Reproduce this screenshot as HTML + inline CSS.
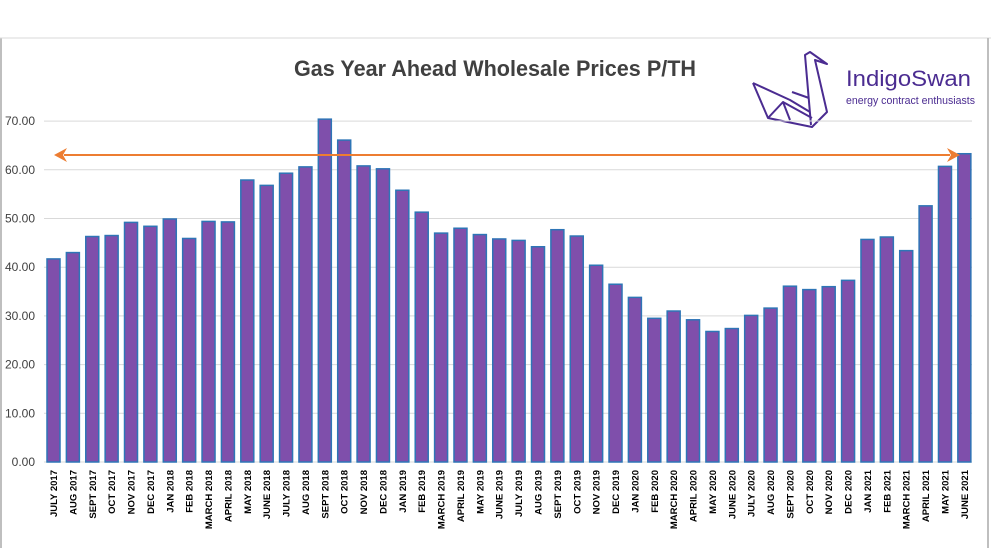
<!DOCTYPE html>
<html><head><style>body{margin:0;background:#fff}svg{display:block}</style></head><body>
<svg width="991" height="548" xmlns="http://www.w3.org/2000/svg" font-family="Liberation Sans, sans-serif">
<rect x="0" y="0" width="991" height="548" fill="#fff"/>
<line x1="1" y1="38" x2="1" y2="548" stroke="#bfbfbf" stroke-width="2"/>
<line x1="0" y1="38" x2="991" y2="38" stroke="#d9d9d9" stroke-width="1"/>
<line x1="988" y1="38" x2="988" y2="548" stroke="#bfbfbf" stroke-width="2"/>
<text x="495" y="76" text-anchor="middle" font-size="22" font-weight="bold" fill="#404040" textLength="402" lengthAdjust="spacingAndGlyphs">Gas Year Ahead Wholesale Prices P/TH</text>
<g id="grid" stroke="#d9d9d9" stroke-width="1"></g>
<g id="yl" font-size="12" fill="#404040" text-anchor="end"></g>
<g id="bars"></g>
<g id="xl" font-size="9.5" font-weight="bold" fill="#000" text-anchor="end"></g>
<line x1="64" y1="155" x2="950" y2="155" stroke="#ed7d31" stroke-width="2"/>
<polygon points="54,155 67,148 63,155 67,162" fill="#ed7d31"/>
<polygon points="960,155 947,148 951,155 947,162" fill="#ed7d31"/>
<g fill="none" stroke="#4b2c91" stroke-width="2" stroke-linejoin="round">
<polyline points="753,83 768,118 812,127 827,112 815,60 827,64 810,52 805,55 811,125"/>
<polyline points="753,83 790,100 810,112"/>
<polyline points="768,118 783,102 790,120"/>
<polyline points="783,102 812,118"/>
<polyline points="792,92 809,98"/>
</g>
<text x="846" y="86" font-size="22" fill="#4b2c91" textLength="125" lengthAdjust="spacingAndGlyphs">IndigoSwan</text>
<text x="846" y="104" font-size="11" fill="#4b2c91" textLength="129" lengthAdjust="spacingAndGlyphs">energy contract enthusiasts</text>
<line x1="740" y1="121" x2="972" y2="121" stroke="#d9d9d9"/>
</svg>
<script>
const v=[41.7,43,46.3,46.5,49.2,48.4,49.9,45.9,49.4,49.3,57.9,56.8,59.3,60.6,70.4,66.1,60.8,60.2,55.8,51.3,47,48,46.7,45.8,45.5,44.2,47.7,46.4,40.4,36.5,33.8,29.5,31,29.2,26.8,27.4,30.1,31.6,36.1,35.4,36,37.3,45.7,46.2,43.4,52.6,60.7,63.3];
const m=["JULY","AUG","SEPT","OCT","NOV","DEC","JAN","FEB","MARCH","APRIL","MAY","JUNE"];
const ns="http://www.w3.org/2000/svg";
function el(t,a,p,txt){const e=document.createElementNS(ns,t);for(const k in a)e.setAttribute(k,a[k]);if(txt)e.textContent=txt;document.getElementById(p).appendChild(e);}
const y0=462,s=4.87;
for(let i=0;i<=7;i++){const y=y0-i*10*s;el("line",{x1:44,x2:972,y1:y,y2:y},"grid");el("text",{x:35,y:y+4},"yl",(i*10).toFixed(2));}
for(let i=0;i<48;i++){const cx=53.5+i*19.38;const h=v[i]*s;
el("rect",{x:cx-6.5,y:y0-h,width:13,height:h,fill:"#7f4fab",stroke:"#2e75b6","stroke-width":1.5},"bars");
const yr=2017+Math.floor((i+6)/12);const lab=m[i%12]+" "+yr;
el("text",{x:0,y:0,transform:`translate(${cx+3.5},470) rotate(-90)`},"xl",lab);}
</script>
</body></html>
